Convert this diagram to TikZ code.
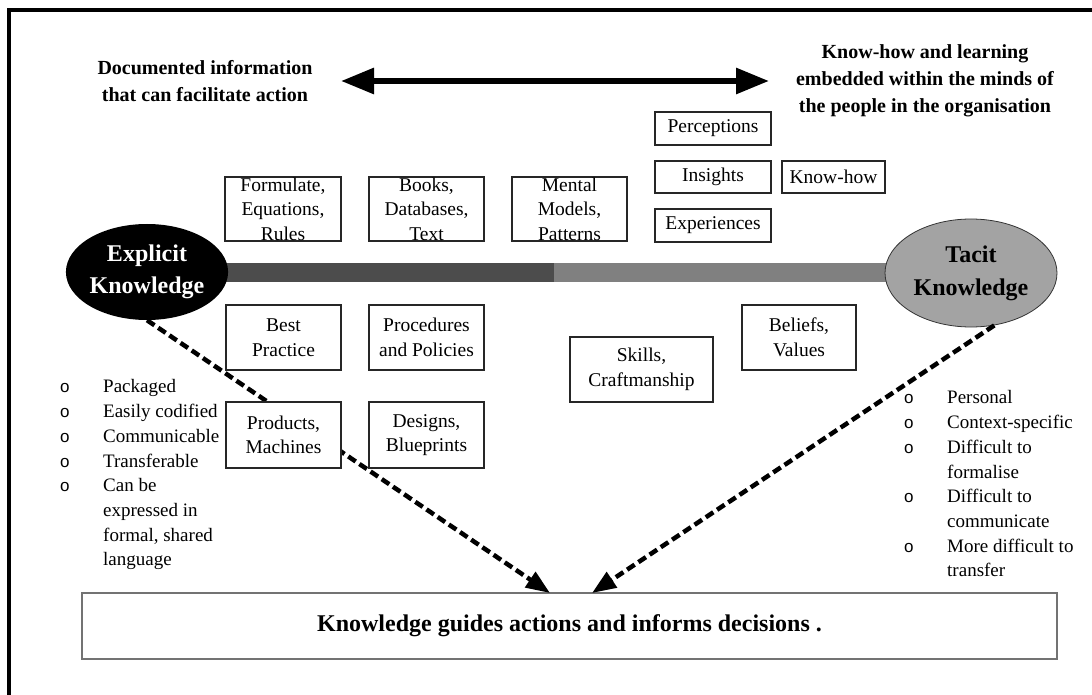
\documentclass[tikz,border=0pt]{standalone}
\usepackage{fontspec}
\setmainfont{Liberation Serif}
\setsansfont{Liberation Sans}
\usetikzlibrary{arrows.meta,shapes.geometric}
\newcommand\bulletmark{{\sffamily\fontsize{17}{17}\selectfont o}}
\begin{document}
\begin{tikzpicture}[x=1pt,y=-1pt,
  kbox/.style={draw=black!85, line width=1.1pt, fill=white, inner sep=0pt},
  ktext/.style={align=center, inner sep=0pt, font=\fontsize{19.5}{24.5}\selectfont},
  toptext/.style={align=center, inner sep=0pt, font=\bfseries\fontsize{20}{27}\selectfont},
  listtext/.style={anchor=north west, inner sep=0pt, font=\fontsize{19}{24.7}\selectfont},
  knode/.style={ellipse, inner sep=0pt, align=center, font=\bfseries\fontsize{24}{33}\selectfont},
  dasharrow/.style={line width=4.5pt, dash pattern=on 9pt off 4.5pt, -{Triangle[length=24pt,width=18pt]}},
  bigarrow/.style={line width=6pt, {Triangle[length=33pt,width=25pt]}-{Triangle[length=33pt,width=25pt]}}
]
\useasboundingbox (0,0) rectangle (1092,695);
\fill[white] (0,0) rectangle (1092,695);

% outer frame
\draw[line width=4pt] (9,695) -- (9,10) -- (1092,10);

% explicit-to-tacit bar
\fill[black!70] (147,263) rectangle (554,282);
\fill[black!50] (554,263) rectangle (971,282);

% the two kinds of knowledge
\node[knode, fill=black, text=white, minimum width=156pt, minimum height=96pt] (expl) at (147,272) {Explicit\\[-1pt]Knowledge};
\node[knode, fill=black!36, draw=black!80, line width=0.8pt, minimum width=172pt, minimum height=108pt] (tacit) at (971,273) {Tacit\\Knowledge};

% outcome box
\node[draw=black!55, line width=1.8pt, fill=white, inner sep=0pt, minimum width=975pt, minimum height=66pt,
      font=\bfseries\fontsize{24}{28}\selectfont] (goal) at (569.5,626) {Knowledge guides actions and informs decisions .};
\coordinate (tipL) at (550,593);
\coordinate (tipR) at (592,593);

% dashed arrows into the outcome
\draw[dasharrow] (expl.south) -- (tipL);
\draw[dasharrow] (tacit.-66) -- (tipR);

% knowledge items
\node[kbox, minimum width=116pt, minimum height=64pt, label={[ktext]center:{Formulate,\\Equations,\\Rules}}] (form) at (283,209) {};
\node[kbox, minimum width=115pt, minimum height=64pt, label={[ktext]center:{Books,\\Databases,\\Text}}] (books) at (426.5,209) {};
\node[kbox, minimum width=115pt, minimum height=64pt, label={[ktext]center:{Mental\\Models,\\Patterns}}] (mental) at (569.5,209) {};
\node[kbox, minimum width=116pt, minimum height=33pt, label={[ktext]center:{Perceptions}}] (perc) at (713,128.5) {};
\node[kbox, minimum width=116pt, minimum height=32pt, label={[ktext]center:{Insights}}] (ins) at (713,177) {};
\node[kbox, minimum width=103pt, minimum height=32pt, label={[ktext]center:{Know-how}}] (khow) at (833.5,177) {};
\node[kbox, minimum width=116pt, minimum height=33pt, label={[ktext]center:{Experiences}}] (exper) at (713,225.5) {};
\node[kbox, minimum width=115pt, minimum height=65pt, label={[ktext]center:{Best\\Practice}}] (best) at (283.5,337.5) {};
\node[kbox, minimum width=115pt, minimum height=65pt, label={[ktext]center:{Procedures\\and Policies}}] (proc) at (426.5,337.5) {};
\node[kbox, minimum width=115pt, minimum height=66pt, label={[ktext]center:{Products,\\Machines}}] (prod) at (283.5,435) {};
\node[kbox, minimum width=115pt, minimum height=66pt, label={[ktext]center:{Designs,\\Blueprints}}] (design) at (426.5,435) {};
\node[kbox, minimum width=143pt, minimum height=65pt, label={[ktext]center:{Skills,\\Craftmanship}}] (skills) at (641.5,369.5) {};
\node[kbox, minimum width=114pt, minimum height=65pt, label={[ktext]center:{Beliefs,\\Values}}] (beliefs) at (799,337.5) {};

% spectrum arrow and its captions
\coordinate (arrL) at (341,81);
\coordinate (arrR) at (769,81);
\draw[bigarrow] (arrL) -- (arrR);
\node[toptext] (doctext) at (205,81.5) {Documented information\\that can facilitate action};
\node[toptext] (mindtext) at (925,80.5) {Know-how and learning\\embedded within the minds of\\the people in the organisation};

% characteristics
\node[listtext] (explist) at (60,375.5) {\begin{tabular}{@{}p{43pt}@{}l@{}}
\bulletmark & Packaged\\
\bulletmark & Easily codified\\
\bulletmark & Communicable\\
\bulletmark & Transferable\\
\bulletmark & Can be\\
 & expressed in\\
 & formal, shared\\
 & language
\end{tabular}};
\node[listtext] (taclist) at (904,386.5) {\begin{tabular}{@{}p{43pt}@{}l@{}}
\bulletmark & Personal\\
\bulletmark & Context-specific\\
\bulletmark & Difficult to\\
 & formalise\\
\bulletmark & Difficult to\\
 & communicate\\
\bulletmark & More difficult to\\
 & transfer
\end{tabular}};
\end{tikzpicture}
\end{document}
